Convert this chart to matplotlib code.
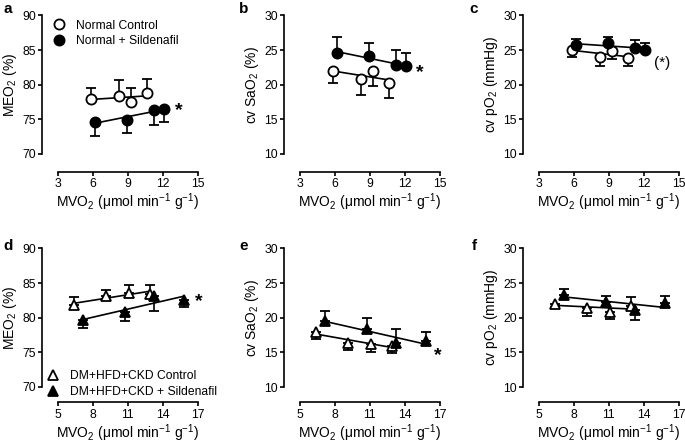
import matplotlib
matplotlib.use('Agg')
import matplotlib.pyplot as plt
from matplotlib.lines import Line2D
import numpy as np

plt.rcParams['font.family'] = ['Liberation Sans', 'DejaVu Sans']
plt.rcParams['mathtext.fontset'] = 'custom'
plt.rcParams['mathtext.rm'] = 'Liberation Sans'
plt.rcParams['mathtext.it'] = 'Liberation Sans:italic'
plt.rcParams['mathtext.bf'] = 'Liberation Sans:bold'

# MVO2 (x) of each group
top_open_x = [5.88, 8.24, 9.30, 10.65]
top_fill_x = [6.15, 8.95, 11.27, 12.12]
bot_open_x = [6.40, 9.15, 11.08, 12.92]
bot_fill_x = [7.14, 10.74, 13.30, 15.82]

# a : MEO2
a_open = [77.94, 78.40, 77.56, 78.76]
a_open_lo = [0, 0, 0, 0]
a_open_hi = [1.66, 2.27, 2.04, 2.14]
a_fill = [74.64, 74.93, 76.36, 76.46]
a_fill_lo = [2.01, 1.90, 2.15, 1.86]
a_fill_hi = [0, 0, 0, 0]
# b : cv SaO2
b_open = [21.95, 20.89, 21.95, 20.27]
b_open_lo = [1.68, 2.31, 2.17, 2.17]
b_open_hi = [0, 0, 0, 0]
b_fill = [24.60, 24.22, 22.87, 22.67]
b_fill_lo = [0, 0, 0, 0]
b_fill_hi = [2.27, 1.83, 2.21, 1.93]
# c : cv pO2
c_open = [25.07, 23.96, 24.93, 23.87]
c_open_lo = [1.11, 1.31, 1.21, 1.22]
c_open_hi = [0, 0, 0, 0]
c_fill = [25.70, 26.04, 25.32, 25.07]
c_fill_lo = [0, 0, 0, 0]
c_fill_hi = [0.97, 0.82, 1.20, 0.97]
# d : MEO2
d_open = [81.82, 83.16, 83.63, 83.49]
d_open_lo = [0, 0, 0, 0]
d_open_hi = [1.20, 0.86, 1.10, 1.24]
d_fill = [79.67, 80.76, 83.16, 82.54]
d_fill_lo = [1.15, 1.29, 2.16, 0.96]
d_fill_hi = [0, 0, 0, 0]
# e : cv SaO2
e_open = [17.90, 16.39, 16.20, 15.91]
e_open_lo = [1.00, 1.06, 1.10, 0.97]
e_open_hi = [0, 0, 0, 0]
e_fill = [19.59, 18.34, 16.30, 16.68]
e_fill_lo = [0, 0, 0, 0]
e_fill_hi = [1.45, 1.60, 2.08, 1.20]
# f : cv pO2
f_open = [22.05, 21.42, 20.79, 21.76]
f_open_lo = [0.5, 1.10, 0.96, 0]
f_open_hi = [0, 0, 0, 1.25]
f_fill = [23.35, 22.23, 21.08, 22.15]
f_fill_lo = [0, 0, 1.45, 0]
f_fill_hi = [0.80, 0.97, 0, 0.95]

xlab = r'MVO$_2$ ($\mathregular{\mu}$mol min$^{-1}$ g$^{-1}$)'

panels = [
    # letter, ylabel, ylim, yticks, xlim, xticks, marker, series, star
    ('a', r'MEO$_2$ (%)', (70, 90), [70, 75, 80, 85, 90], (3, 15), [3, 6, 9, 12, 15], 'o',
     (top_open_x, a_open, a_open_lo, a_open_hi, top_fill_x, a_fill, a_fill_lo, a_fill_hi),
     ('*', 13.05, 76.2)),
    ('b', r'cv SaO$_2$ (%)', (10, 30), [10, 15, 20, 25, 30], (3, 15), [3, 6, 9, 12, 15], 'o',
     (top_open_x, b_open, b_open_lo, b_open_hi, top_fill_x, b_fill, b_fill_lo, b_fill_hi),
     ('*', 12.95, 21.8)),
    ('c', r'cv pO$_2$ (mmHg)', (10, 30), [10, 15, 20, 25, 30], (3, 15), [3, 6, 9, 12, 15], 'o',
     (top_open_x, c_open, c_open_lo, c_open_hi, top_fill_x, c_fill, c_fill_lo, c_fill_hi),
     ('(*)', 12.9, 23.1)),
    ('d', r'MEO$_2$ (%)', (70, 90), [70, 75, 80, 85, 90], (5, 17), [5, 8, 11, 14, 17], '^',
     (bot_open_x, d_open, d_open_lo, d_open_hi, bot_fill_x, d_fill, d_fill_lo, d_fill_hi),
     ('*', 16.75, 82.4)),
    ('e', r'cv SaO$_2$ (%)', (10, 30), [10, 15, 20, 25, 30], (5, 17), [5, 8, 11, 14, 17], '^',
     (bot_open_x, e_open, e_open_lo, e_open_hi, bot_fill_x, e_fill, e_fill_lo, e_fill_hi),
     ('*', 16.55, 14.5)),
    ('f', r'cv pO$_2$ (mmHg)', (10, 30), [10, 15, 20, 25, 30], (5, 17), [5, 8, 11, 14, 17], '^',
     (bot_open_x, f_open, f_open_lo, f_open_hi, bot_fill_x, f_fill, f_fill_lo, f_fill_hi),
     None),
]

W, H = 685, 446
fig = plt.figure(figsize=(W / 100, H / 100), dpi=100)

lefts = [58, 300, 539]
tops = [15.5, 248.5]
aw, ah = 139.5, 138.5
letter_x = [8, 244, 474]
letter_y = [9, 246]

axes = []
for k, (letter, ylab, ylim, yt, xlim, xt, mk, ser, star) in enumerate(panels):
    col, row = k % 3, k // 3
    l, t = lefts[col], tops[row]
    ax = fig.add_axes([l / W, 1 - (t + ah) / H, aw / W, ah / H])
    axes.append(ax)
    ax.set_xlim(xlim)
    ax.set_ylim(ylim)
    ax.set_xticks(xt)
    ax.set_yticks(yt)
    for s in ['top', 'right']:
        ax.spines[s].set_visible(False)
    ax.spines['left'].set_position(('outward', 11.5))
    ax.spines['bottom'].set_position(('outward', 13 if row == 0 else 11))
    for s in ['left', 'bottom']:
        ax.spines[s].set_linewidth(1.2)
    ax.tick_params(width=1.2, length=3, labelsize=8.8, pad=1.5)
    ax.set_ylabel(ylab, fontsize=10, labelpad=2.5)
    ax.set_xlabel(xlab, fontsize=10, labelpad=1)
    ax.patch.set_visible(False)

    ox, oy, olo, ohi, fx, fy, flo, fhi = ser
    for x, y, lo, hi, face in [(ox, oy, olo, ohi, 'white'), (fx, fy, flo, fhi, 'black')]:
        x = np.array(x)
        y = np.array(y)
        p = np.polyfit(x, y, 1)
        xx = np.array([x.min(), x.max()])
        ax.plot(xx, np.polyval(p, xx), color='black', lw=1.2, zorder=2, clip_on=False)
        ax.errorbar(x, y, yerr=[lo, hi], fmt=mk, ms=7.3 if mk == 'o' else 7.5,
                    mfc=face, mec='black', mew=1.3, ecolor='black', elinewidth=1.2,
                    capsize=3.5, capthick=1.2, zorder=3, clip_on=False)
    if star is not None:
        txt, sx, sy = star
        if txt == '*':
            ax.text(sx, sy, txt, fontsize=14, fontweight='bold', ha='left', va='center')
        else:
            ax.text(sx, sy, txt, fontsize=11, ha='left', va='center')

    fig.text(letter_x[col] / W, 1 - letter_y[row] / H, letter, fontsize=11,
             fontweight='bold', ha='center', va='center')

# legends
h1 = [Line2D([], [], ls='none', marker='o', ms=7.3, mfc='white', mec='black', mew=1.3),
      Line2D([], [], ls='none', marker='o', ms=7.3, mfc='black', mec='black', mew=1.3)]
axes[0].legend(h1, ['Normal Control', 'Normal + Sildenafil'], loc='upper left',
               bbox_to_anchor=(-0.068, 1.005), frameon=False, fontsize=8.7,
               handlelength=1.0, handletextpad=0.9, labelspacing=0.3, borderaxespad=0)
h2 = [Line2D([], [], ls='none', marker='^', ms=7.5, mfc='white', mec='black', mew=1.3),
      Line2D([], [], ls='none', marker='^', ms=7.5, mfc='black', mec='black', mew=1.3)]
axes[3].legend(h2, ['DM+HFD+CKD Control', 'DM+HFD+CKD + Sildenafil'], loc='lower left',
               bbox_to_anchor=(-0.112, -0.115), frameon=False, fontsize=8.7,
               handlelength=1.0, handletextpad=0.9, labelspacing=0.3, borderaxespad=0)

fig.savefig('out.png', dpi=100)
